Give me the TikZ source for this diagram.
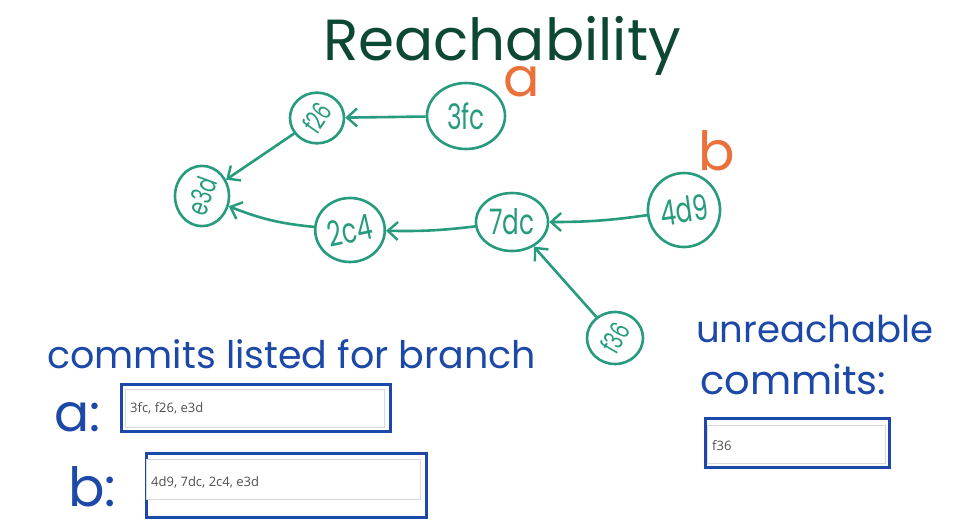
\documentclass[tikz,border=0pt]{standalone}
\usepackage{fontspec}
\setmainfont{Poppins}
\newfontfamily\boxfont{Open Sans}
\usepackage{graphicx}
\definecolor{gitgreen}{RGB}{38,155,125}
\definecolor{titlegreen}{RGB}{12,72,52}
\definecolor{branchorange}{RGB}{236,112,58}
\definecolor{handblue}{RGB}{28,72,168}
\definecolor{fieldgray}{RGB}{80,80,80}
\usetikzlibrary{arrows.meta,positioning,shapes.geometric}
\newcommand{\commitid}[2]{\rotatebox{#1}{\scalebox{0.95}[1.35]{#2}}}

\begin{document}
\begin{tikzpicture}[x=1pt, y=-1pt,
  commit/.style={ellipse, draw=gitgreen, line width=2.6pt, inner sep=0pt,
    text=gitgreen, font=\fontsize{26}{26}\selectfont},
  parent/.style={draw=gitgreen, line width=2.6pt,
    -{Straight Barb[length=10pt, width=18pt, line width=2.4pt]}},
  branchlabel/.style={text=branchorange, font=\fontsize{54}{54}\selectfont, inner sep=0pt},
  handtext/.style={text=handblue, font=\fontsize{38}{38}\selectfont, inner sep=0pt},
  handbox/.style={draw=handblue, line width=3pt},
  field/.style={draw=black!15, fill=white, line width=0.6pt},
  fieldtext/.style={text=fieldgray, font=\boxfont\fontsize{13}{13}\selectfont,
    anchor=west, inner sep=0pt}]

\useasboundingbox[fill=white] (0,0) rectangle (954,530);

\node[text=titlegreen, font=\fontsize{58}{58}\selectfont, anchor=base, inner sep=0pt] (title) at (502,60) {Reachability};

% commits
\node[commit, minimum width=78pt, minimum height=66pt] (c3fc) at (466,116) {\commitid{0}{3fc}};
\node[commit, minimum width=54pt, minimum height=50pt] (cf26) at (317,118) {\commitid{55}{\fontsize{20}{20}\selectfont f26}};
\node[commit, minimum width=54pt, minimum height=56pt] (ce3d) at (202,196) {\commitid{70}{\fontsize{21}{21}\selectfont e3d}};
\node[commit, minimum width=64pt, minimum height=64pt] (c2c4) at (350,230) {\commitid{12}{2c4}};
\node[commit, minimum width=72pt, minimum height=58pt] (c7dc) at (512,222) {\commitid{0}{7dc}};
\node[commit, minimum width=72pt, minimum height=74pt] (c4d9) at (684,210) {\commitid{8}{4d9}};
\node[commit, minimum width=56pt, minimum height=52pt] (cf36) at (615,338) {\commitid{60}{\fontsize{20}{20}\selectfont f36}};

% branches
\node[branchlabel, anchor=base] (ba) at (522,96) {a};
\node[branchlabel, anchor=base] (bb) at (717,170) {b};

% Connecting arrows
\draw[parent] (c3fc) -- (cf26);
\draw[parent] (cf26) -- (ce3d);
\draw[parent] (c2c4) to[bend left=8] (ce3d);
\draw[parent] (c7dc) to[bend left=4] (c2c4);
\draw[parent] (c4d9) to[bend left=4] (c7dc);
\draw[parent] (cf36) -- (c7dc);

% answers
\node[handtext, anchor=base west] (listed) at (47,368) {commits listed for branch};
\node[handtext, anchor=base west, font=\fontsize{52}{52}\selectfont] (lbla) at (54,431) {a:};
\node[handtext, anchor=base west, font=\fontsize{54}{54}\selectfont] (lblb) at (68,506) {b:};
\node[handtext, anchor=base west, font=\fontsize{37}{37}\selectfont] (unreach) at (696,342) {unreachable};
\node[handtext, anchor=base west, font=\fontsize{40}{40}\selectfont] (unreach2) at (700,394) {commits:};

\draw[handbox] (121,384) rectangle (390,431);
\draw[field] (125,389) rectangle (384,427);
\node[fieldtext] (fa) at (130,408) {3fc, f26, e3d};

\draw[handbox] (146,453) rectangle (426,517);
\draw[field] (146,459) rectangle (420,499);
\node[fieldtext] (fb) at (151,482) {4d9, 7dc, 2c4, e3d};

\draw[handbox] (705,418) rectangle (889,467);
\draw[field] (707,425) rectangle (885,463);
\node[fieldtext] (fu) at (712,446) {f36};

\end{tikzpicture}
\end{document}
